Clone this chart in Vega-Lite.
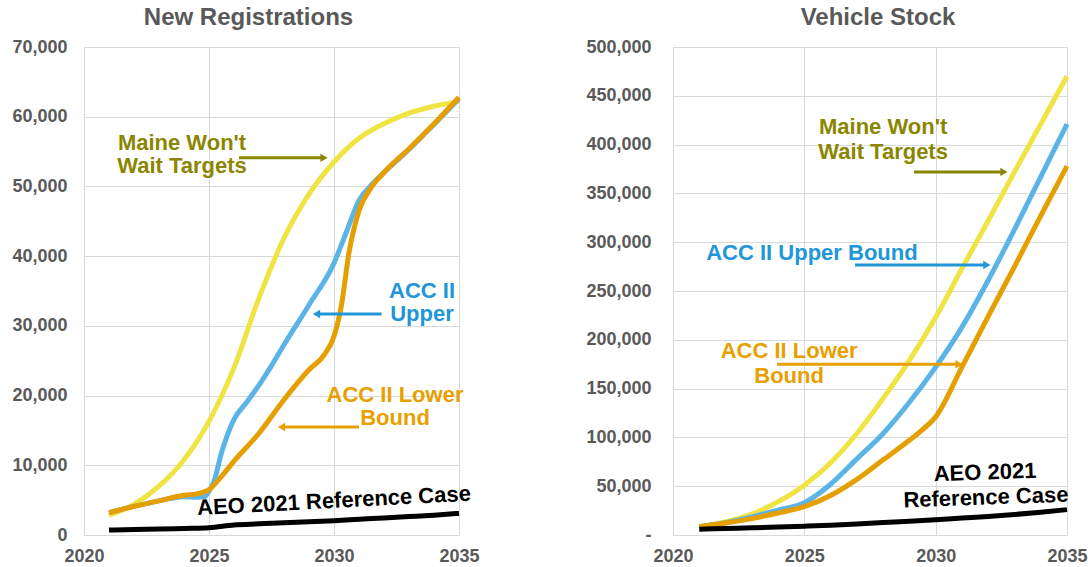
{
  "$schema": "https://vega.github.io/schema/vega-lite/v6.json",
  "padding": {"left": 11, "top": 5, "right": 0, "bottom": 0},
  "spacing": 105,
  "config": {
    "view": {"stroke": "#d9d9d9", "strokeWidth": 1},
    "axis": {"labelFont": "Liberation Sans", "labelFontWeight": "bold", "labelFontSize": 18, "labelColor": "#595959", "gridColor": "#d9d9d9", "domainColor": "#d9d9d9", "ticks": false},
    "title": {"font": "Liberation Sans", "fontSize": 24, "fontWeight": "bold", "color": "#595959", "offset": 8},
    "text": {"font": "Liberation Sans", "fontWeight": "bold", "fontSize": 22}
  },
  "datasets": {
    "reg": [
      {"series": "maine", "year": 2021, "value": 2800},
      {"series": "maine", "year": 2022, "value": 4400},
      {"series": "maine", "year": 2023, "value": 7000},
      {"series": "maine", "year": 2024, "value": 10800},
      {"series": "maine", "year": 2025, "value": 16300},
      {"series": "maine", "year": 2026, "value": 24000},
      {"series": "maine", "year": 2027, "value": 34000},
      {"series": "maine", "year": 2028, "value": 42600},
      {"series": "maine", "year": 2029, "value": 48900},
      {"series": "maine", "year": 2030, "value": 53500},
      {"series": "maine", "year": 2031, "value": 56900},
      {"series": "maine", "year": 2032, "value": 59000},
      {"series": "maine", "year": 2033, "value": 60500},
      {"series": "maine", "year": 2034, "value": 61500},
      {"series": "maine", "year": 2035, "value": 62200},
      {"series": "upper", "year": 2021, "value": 3200},
      {"series": "upper", "year": 2022, "value": 4100},
      {"series": "upper", "year": 2023, "value": 4900},
      {"series": "upper", "year": 2024, "value": 5500},
      {"series": "upper", "year": 2024.5, "value": 5400},
      {"series": "upper", "year": 2024.8, "value": 5500},
      {"series": "upper", "year": 2025, "value": 6300},
      {"series": "upper", "year": 2025.2, "value": 7700},
      {"series": "upper", "year": 2025.5, "value": 11800},
      {"series": "upper", "year": 2026, "value": 16600},
      {"series": "upper", "year": 2026.5, "value": 19000},
      {"series": "upper", "year": 2027, "value": 21500},
      {"series": "upper", "year": 2027.5, "value": 24300},
      {"series": "upper", "year": 2028, "value": 27300},
      {"series": "upper", "year": 2029, "value": 33000},
      {"series": "upper", "year": 2030, "value": 39000},
      {"series": "upper", "year": 2030.5, "value": 43500},
      {"series": "upper", "year": 2031, "value": 48000},
      {"series": "upper", "year": 2031.5, "value": 50200},
      {"series": "upper", "year": 2032, "value": 52000},
      {"series": "upper", "year": 2033, "value": 55300},
      {"series": "upper", "year": 2034, "value": 58900},
      {"series": "upper", "year": 2035, "value": 62600},
      {"series": "lower", "year": 2021, "value": 3200},
      {"series": "lower", "year": 2022, "value": 4100},
      {"series": "lower", "year": 2023, "value": 4900},
      {"series": "lower", "year": 2024, "value": 5700},
      {"series": "lower", "year": 2024.5, "value": 5900},
      {"series": "lower", "year": 2025, "value": 6500},
      {"series": "lower", "year": 2025.5, "value": 8400},
      {"series": "lower", "year": 2026, "value": 10600},
      {"series": "lower", "year": 2027, "value": 14600},
      {"series": "lower", "year": 2028, "value": 19400},
      {"series": "lower", "year": 2029, "value": 23700},
      {"series": "lower", "year": 2029.6, "value": 25800},
      {"series": "lower", "year": 2030, "value": 28500},
      {"series": "lower", "year": 2030.3, "value": 33000},
      {"series": "lower", "year": 2030.6, "value": 40500},
      {"series": "lower", "year": 2031, "value": 46500},
      {"series": "lower", "year": 2031.5, "value": 49900},
      {"series": "lower", "year": 2032, "value": 52000},
      {"series": "lower", "year": 2033, "value": 55400},
      {"series": "lower", "year": 2034, "value": 59000},
      {"series": "lower", "year": 2035, "value": 62800},
      {"series": "aeo", "year": 2021, "value": 700},
      {"series": "aeo", "year": 2022, "value": 800},
      {"series": "aeo", "year": 2023, "value": 850},
      {"series": "aeo", "year": 2024, "value": 950},
      {"series": "aeo", "year": 2025, "value": 1050},
      {"series": "aeo", "year": 2026, "value": 1450},
      {"series": "aeo", "year": 2027, "value": 1600},
      {"series": "aeo", "year": 2028, "value": 1750},
      {"series": "aeo", "year": 2029, "value": 1900},
      {"series": "aeo", "year": 2030, "value": 2050},
      {"series": "aeo", "year": 2031, "value": 2250},
      {"series": "aeo", "year": 2032, "value": 2450},
      {"series": "aeo", "year": 2033, "value": 2650},
      {"series": "aeo", "year": 2034, "value": 2850},
      {"series": "aeo", "year": 2035, "value": 3100}
    ],
    "stock": [
      {"series": "maine", "year": 2021, "value": 8500},
      {"series": "maine", "year": 2022, "value": 13500},
      {"series": "maine", "year": 2023, "value": 21500},
      {"series": "maine", "year": 2024, "value": 34000},
      {"series": "maine", "year": 2025, "value": 51000},
      {"series": "maine", "year": 2026, "value": 74000},
      {"series": "maine", "year": 2027, "value": 104000},
      {"series": "maine", "year": 2028, "value": 140000},
      {"series": "maine", "year": 2029, "value": 179000},
      {"series": "maine", "year": 2030, "value": 223000},
      {"series": "maine", "year": 2031, "value": 273000},
      {"series": "maine", "year": 2032, "value": 322000},
      {"series": "maine", "year": 2033, "value": 372000},
      {"series": "maine", "year": 2034, "value": 421000},
      {"series": "maine", "year": 2035, "value": 470000},
      {"series": "upper", "year": 2021, "value": 8500},
      {"series": "upper", "year": 2022, "value": 12500},
      {"series": "upper", "year": 2023, "value": 18500},
      {"series": "upper", "year": 2024, "value": 25500},
      {"series": "upper", "year": 2025, "value": 33000},
      {"series": "upper", "year": 2026, "value": 52000},
      {"series": "upper", "year": 2027, "value": 78000},
      {"series": "upper", "year": 2028, "value": 104000},
      {"series": "upper", "year": 2029, "value": 136000},
      {"series": "upper", "year": 2030, "value": 172000},
      {"series": "upper", "year": 2031, "value": 213000},
      {"series": "upper", "year": 2032, "value": 261000},
      {"series": "upper", "year": 2033, "value": 313000},
      {"series": "upper", "year": 2034, "value": 367000},
      {"series": "upper", "year": 2035, "value": 421000},
      {"series": "lower", "year": 2021, "value": 8500},
      {"series": "lower", "year": 2022, "value": 12300},
      {"series": "lower", "year": 2023, "value": 16800},
      {"series": "lower", "year": 2024, "value": 22500},
      {"series": "lower", "year": 2025, "value": 29000},
      {"series": "lower", "year": 2026, "value": 40500},
      {"series": "lower", "year": 2027, "value": 57000},
      {"series": "lower", "year": 2028, "value": 77000},
      {"series": "lower", "year": 2029, "value": 97000},
      {"series": "lower", "year": 2029.5, "value": 108000},
      {"series": "lower", "year": 2030, "value": 121000},
      {"series": "lower", "year": 2031, "value": 172000},
      {"series": "lower", "year": 2032, "value": 224000},
      {"series": "lower", "year": 2033, "value": 275000},
      {"series": "lower", "year": 2034, "value": 327000},
      {"series": "lower", "year": 2035, "value": 378000},
      {"series": "aeo", "year": 2021, "value": 6000},
      {"series": "aeo", "year": 2022, "value": 6700},
      {"series": "aeo", "year": 2023, "value": 7400},
      {"series": "aeo", "year": 2024, "value": 8200},
      {"series": "aeo", "year": 2025, "value": 9000},
      {"series": "aeo", "year": 2026, "value": 10000},
      {"series": "aeo", "year": 2027, "value": 11300},
      {"series": "aeo", "year": 2028, "value": 12700},
      {"series": "aeo", "year": 2029, "value": 14000},
      {"series": "aeo", "year": 2030, "value": 15600},
      {"series": "aeo", "year": 2031, "value": 17300},
      {"series": "aeo", "year": 2032, "value": 19000},
      {"series": "aeo", "year": 2033, "value": 21000},
      {"series": "aeo", "year": 2034, "value": 23300},
      {"series": "aeo", "year": 2035, "value": 26000}
    ],
    "regNotes": [
      {"series": "maine", "year": 2023.92, "value": 56200, "label": "Maine Won't\nWait Targets"},
      {"series": "upper", "year": 2033.52, "value": 35000, "label": "ACC II\nUpper"},
      {"series": "lower", "year": 2032.44, "value": 20100, "label": "ACC II Lower\nBound"}
    ],
    "regAeo": [
      {"series": "aeo", "year": 2030.0, "value": 4900, "label": "AEO 2021 Reference Case"}
    ],
    "regArrows": [
      {"series": "maine", "year": 2026.2, "year2": 2029.6, "value": 54100, "dir": "right"},
      {"series": "upper", "year": 2031.9, "year2": 2029.3, "value": 31700, "dir": "left"},
      {"series": "lower", "year": 2031.0, "year2": 2027.9, "value": 15500, "dir": "left"}
    ],
    "stockNotes": [
      {"series": "maine", "year": 2028.0, "value": 418000, "label": "Maine Won't\nWait Targets"},
      {"series": "upper", "year": 2025.29, "value": 289000, "label": "ACC II Upper Bound"},
      {"series": "lower", "year": 2024.42, "value": 188500, "label": "ACC II Lower\nBound"}
    ],
    "stockAeo": [
      {"series": "aeo", "year": 2031.88, "value": 64000, "label": "AEO 2021\nReference Case"}
    ],
    "stockArrows": [
      {"series": "maine", "year": 2029.17, "year2": 2032.6, "value": 372000, "dir": "right"},
      {"series": "upper", "year": 2026.93, "year2": 2031.95, "value": 276600, "dir": "right"},
      {"series": "lower", "year": 2023.96, "year2": 2030.89, "value": 175000, "dir": "right"}
    ]
  },
  "hconcat": [
    {
      "width": 375,
      "height": 488,
      "title": {"text": "New Registrations", "dx": -23},
      "resolve": {"scale": {"color": "independent"}},
      "layer": [
        {
          "data": {"name": "reg"},
          "mark": {"type": "line", "strokeWidth": 5, "interpolate": "monotone"},
          "encoding": {
            "x": {"field": "year", "type": "quantitative", "scale": {"domain": [2020, 2035], "nice": false, "zero": false}, "axis": {"title": null, "values": [2020, 2025, 2030, 2035], "format": "d", "labelPadding": 12, "labelFlush": false}},
            "y": {"field": "value", "type": "quantitative", "scale": {"domain": [0, 70000], "nice": false}, "axis": {"title": null, "values": [0, 10000, 20000, 30000, 40000, 50000, 60000, 70000], "format": ",d", "labelPadding": 17}},
            "color": {"field": "series", "type": "nominal", "legend": null, "scale": {"domain": ["maine", "upper", "lower", "aeo"], "range": ["#F0E442", "#5AB4E6", "#E69F00", "#000000"]}}
          }
        },
        {
          "data": {"name": "regArrows"},
          "mark": {"type": "rule", "strokeWidth": 3},
          "encoding": {
            "x": {"field": "year", "type": "quantitative"},
            "x2": {"field": "year2"},
            "y": {"field": "value", "type": "quantitative"},
            "color": {"field": "series", "type": "nominal", "legend": null, "scale": {"domain": ["maine", "upper", "lower"], "range": ["#8B8600", "#2196D8", "#E8A000"]}}
          }
        },
        {
          "data": {"name": "regArrows"},
          "mark": {"type": "point", "filled": true, "opacity": 1, "size": 70},
          "encoding": {
            "x": {"field": "year2", "type": "quantitative"},
            "y": {"field": "value", "type": "quantitative"},
            "shape": {"field": "dir", "type": "nominal", "legend": null, "scale": {"domain": ["right", "left"], "range": ["triangle-right", "triangle-left"]}},
            "color": {"field": "series", "type": "nominal", "legend": null, "scale": {"domain": ["maine", "upper", "lower"], "range": ["#8B8600", "#2196D8", "#E8A000"]}}
          }
        },
        {
          "data": {"name": "regNotes"},
          "mark": {"type": "text", "lineBreak": "\n", "lineHeight": 23, "align": "center", "baseline": "middle", "fontSize": 22},
          "encoding": {
            "x": {"field": "year", "type": "quantitative"},
            "y": {"field": "value", "type": "quantitative"},
            "text": {"field": "label"},
            "color": {"field": "series", "type": "nominal", "legend": null, "scale": {"domain": ["maine", "upper", "lower"], "range": ["#8B8600", "#2196D8", "#E8A000"]}}
          }
        },
        {
          "data": {"name": "regAeo"},
          "mark": {"type": "text", "align": "center", "baseline": "middle", "fontSize": 22, "angle": -3, "color": "#000000"},
          "encoding": {
            "x": {"field": "year", "type": "quantitative"},
            "y": {"field": "value", "type": "quantitative"},
            "text": {"field": "label"}
          }
        }
      ]
    },
    {
      "width": 394,
      "height": 488,
      "title": {"text": "Vehicle Stock", "dx": 8},
      "resolve": {"scale": {"color": "independent"}},
      "layer": [
        {
          "data": {"name": "stock"},
          "mark": {"type": "line", "strokeWidth": 5, "interpolate": "monotone"},
          "encoding": {
            "x": {"field": "year", "type": "quantitative", "scale": {"domain": [2020, 2035], "nice": false, "zero": false}, "axis": {"title": null, "values": [2020, 2025, 2030, 2035], "format": "d", "labelPadding": 12, "labelFlush": false}},
            "y": {"field": "value", "type": "quantitative", "scale": {"domain": [0, 500000], "nice": false}, "axis": {"title": null, "values": [0, 50000, 100000, 150000, 200000, 250000, 300000, 350000, 400000, 450000, 500000], "labelExpr": "datum.value === 0 ? '-' : format(datum.value, ',')", "labelPadding": 22}},
            "color": {"field": "series", "type": "nominal", "legend": null, "scale": {"domain": ["maine", "upper", "lower", "aeo"], "range": ["#F0E442", "#5AB4E6", "#E69F00", "#000000"]}}
          }
        },
        {
          "data": {"name": "stockArrows"},
          "mark": {"type": "rule", "strokeWidth": 3},
          "encoding": {
            "x": {"field": "year", "type": "quantitative"},
            "x2": {"field": "year2"},
            "y": {"field": "value", "type": "quantitative"},
            "color": {"field": "series", "type": "nominal", "legend": null, "scale": {"domain": ["maine", "upper", "lower"], "range": ["#8B8600", "#2196D8", "#E8A000"]}}
          }
        },
        {
          "data": {"name": "stockArrows"},
          "mark": {"type": "point", "filled": true, "opacity": 1, "size": 70},
          "encoding": {
            "x": {"field": "year2", "type": "quantitative"},
            "y": {"field": "value", "type": "quantitative"},
            "shape": {"field": "dir", "type": "nominal", "legend": null, "scale": {"domain": ["right", "left"], "range": ["triangle-right", "triangle-left"]}},
            "color": {"field": "series", "type": "nominal", "legend": null, "scale": {"domain": ["maine", "upper", "lower"], "range": ["#8B8600", "#2196D8", "#E8A000"]}}
          }
        },
        {
          "data": {"name": "stockNotes"},
          "mark": {"type": "text", "lineBreak": "\n", "lineHeight": 25, "align": "center", "baseline": "middle", "fontSize": 22},
          "encoding": {
            "x": {"field": "year", "type": "quantitative"},
            "y": {"field": "value", "type": "quantitative"},
            "text": {"field": "label"},
            "color": {"field": "series", "type": "nominal", "legend": null, "scale": {"domain": ["maine", "upper", "lower"], "range": ["#8B8600", "#2196D8", "#E8A000"]}}
          }
        },
        {
          "data": {"name": "stockAeo"},
          "mark": {"type": "text", "lineBreak": "\n", "lineHeight": 25, "align": "center", "baseline": "middle", "fontSize": 22, "angle": -2, "color": "#000000"},
          "encoding": {
            "x": {"field": "year", "type": "quantitative"},
            "y": {"field": "value", "type": "quantitative"},
            "text": {"field": "label"}
          }
        }
      ]
    }
  ]
}
